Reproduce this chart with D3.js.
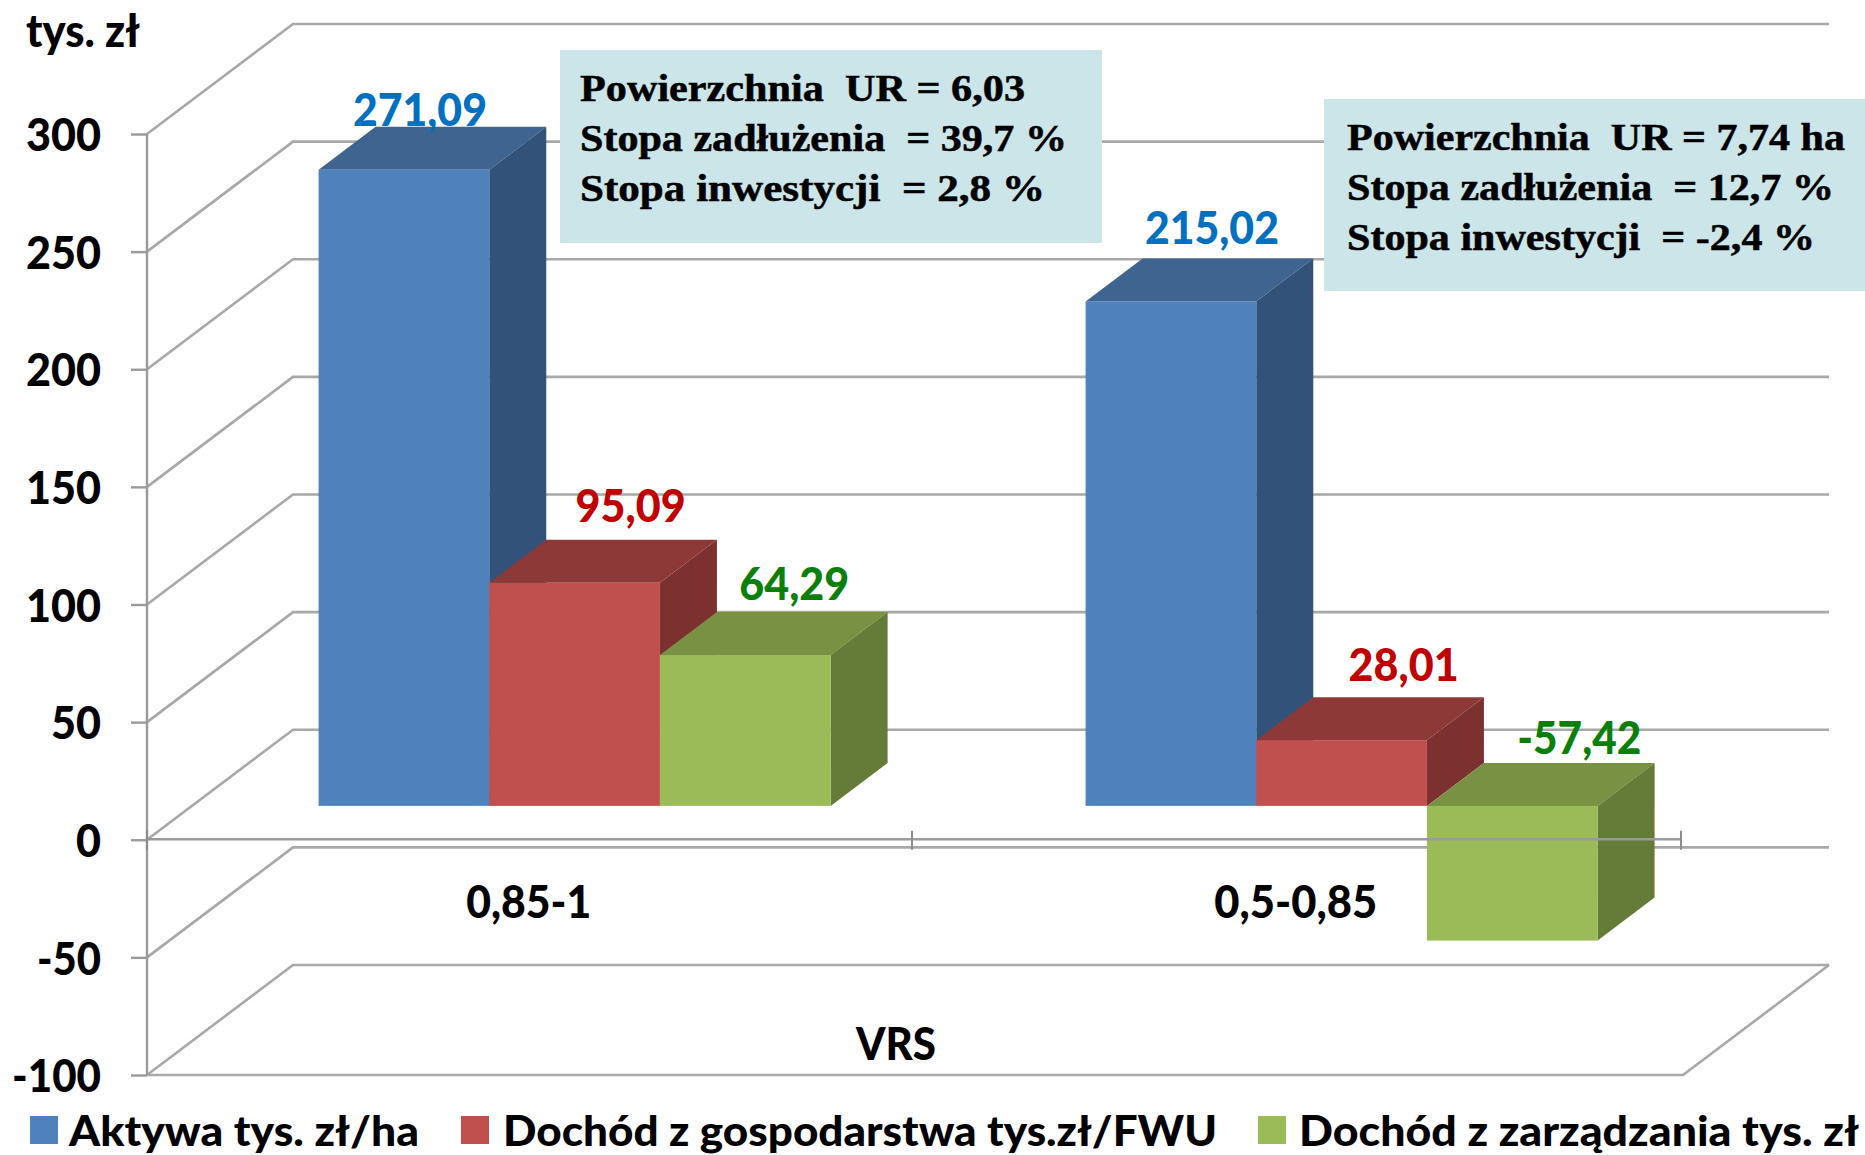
<!DOCTYPE html>
<html><head><meta charset="utf-8">
<script src="https://cdnjs.cloudflare.com/ajax/libs/d3/7.8.5/d3.min.js"></script>
<style>html,body{margin:0;background:#fff;overflow:hidden}svg{display:block}text{white-space:pre}</style>
</head><body><svg id="c" width="1865" height="1155"></svg>
<script>
const categories = ["0,85-1", "0,5-0,85"];
const seriesNames = ["Aktywa tys. zł/ha", "Dochód z gospodarstwa tys.zł/FWU", "Dochód z zarządzania tys. zł"];
const aktywa = [271.09, 215.02];
const dochodGosp = [95.09, 28.01];
const dochodZarz = [64.29, -57.42];
const yTicks = [300, 250, 200, 150, 100, 50, 0, -50, -100];
const noteLeft = ["Powierzchnia  UR = 6,03", "Stopa zadłużenia  = 39,7 %", "Stopa inwestycji  = 2,8 %"];
const noteRight = ["Powierzchnia  UR = 7,74 ha", "Stopa zadłużenia  = 12,7 %", "Stopa inwestycji  = -2,4 %"];
const xTitle = "VRS", yTitle = "tys. zł";

const seriesValues = [aktywa, dochodGosp, dochodZarz];
const front = ["#4F81BD", "#C0504D", "#9BBB59"];
const topFace = ["#3F648F", "#8D3938", "#799142"];
const sideFace = ["#335279", "#7C3130", "#657B38"];
const labelColor = ["#0070C0", "#C00000", "#0A7F0A"];
const GRID = "#A8A8A8", SANS = "Lato, 'Liberation Sans', sans-serif", SERIF = "'Liberation Serif', serif";

const svg = d3.select("#c");
const wallDx = 146, wallDy = -110, barDx = 57, barDy = -43;
const y = d3.scaleLinear().domain([-100, 300]).range([1075, 134]);
const barY = d3.scaleLinear().domain([-100, 300]).range([1040.5, 102]);
const x = d3.scaleBand().domain(categories).range([147, 1681]);
const inner = d3.scaleBand().domain(d3.range(3)).range([171.6, 683.6]);
const line = d3.line();
const pl = (pts, stroke, w) => svg.append("path").attr("d", line(pts)).attr("fill", "none").attr("stroke", stroke).attr("stroke-width", w);

// walls
yTicks.forEach(t => {
  const yy = y(t);
  pl([[147, yy], [147 + wallDx, yy + wallDy], [1683 + wallDx, yy + wallDy]], GRID, 2.6);
});
pl([[147, y(-100)], [1683, y(-100)], [1683 + wallDx, y(-100) + wallDy]], GRID, 2.6);

// 3D bars
const flat = [];
categories.forEach((c, ci) => seriesValues.forEach((s, si) => flat.push({ ci, si, c, v: s[ci] })));
const bars = svg.append("g").selectAll("g").data(flat).join("g");
const X0 = d => x(d.c) + inner(d.si), X1 = d => X0(d) + inner.bandwidth();
const Ytop = d => barY(Math.max(0, d.v)), Ybot = d => barY(Math.min(0, d.v));
bars.append("path").attr("fill", d => topFace[d.si]).attr("d", d => line([[X0(d), Ytop(d)], [X1(d), Ytop(d)], [X1(d) + barDx, Ytop(d) + barDy], [X0(d) + barDx, Ytop(d) + barDy]]) + "Z");
bars.append("path").attr("fill", d => sideFace[d.si]).attr("d", d => line([[X1(d), Ytop(d)], [X1(d) + barDx, Ytop(d) + barDy], [X1(d) + barDx, Ybot(d) + barDy], [X1(d), Ybot(d)]]) + "Z");
bars.append("rect").attr("fill", d => front[d.si]).attr("x", X0).attr("y", Ytop).attr("width", inner.bandwidth()).attr("height", d => Ybot(d) - Ytop(d));

// axes
const axY = svg.append("g").attr("transform", "translate(147,0)").call(d3.axisLeft(y).tickValues(yTicks).tickSize(16).tickPadding(30).tickFormat(d => d));
const axX = svg.append("g").attr("transform", `translate(0,${y(0) - 1})`).call(d3.axisBottom(x).tickValues([]).tickSizeOuter(0));
[axY, axX].forEach(a => { a.selectAll("path,line").attr("stroke", "#9A9A9A").attr("stroke-width", 2.4); });
const tickWidth = s => String(s).split("").reduce((w, ch) => w + (ch === "-" ? 14 : 25), 0);
axY.selectAll("text").attr("font-family", SANS).attr("font-weight", 900).attr("font-size", 45).attr("fill", "#000").attr("dy", "0.37em")
  .attr("x", -46).attr("textLength", d => tickWidth(d)).attr("lengthAdjust", "spacingAndGlyphs");
axY.select(".domain").attr("d", `M0,${y(300)}V${y(-100)}`);
const edges = [147, x(categories[1]) - 2, 1681];
edges.forEach(e => pl([[e, y(0) - 9], [e, y(0) + 10]], "#8C8C8C", 2));

const txt = (s, xx, yy, o = {}) => {
  const t = svg.append("text").text(s).attr("x", xx).attr("y", yy)
    .attr("font-family", o.f || SANS).attr("font-weight", o.w || 900).attr("font-size", o.size || 45)
    .attr("fill", o.color || "#000").attr("text-anchor", o.anchor || "middle");
  if (o.sw) t.attr("stroke", o.color || "#000").attr("stroke-width", o.sw);
  if (o.len) t.attr("textLength", o.len).attr("lengthAdjust", "spacingAndGlyphs");
  return t;
};

// value labels (nudges per label, relative to the bar's top)
const nudges = [[16, -44], [56, -61], [49, -55], [41, -57], [62, -59], [67, -52]];
flat.forEach((d, i) => txt(d3.format(".2f")(d.v).replace(".", ",").replace("\u2212", "-"), (X0(d) + X1(d)) / 2 + nudges[i][0], Ytop(d) + nudges[i][1], { color: labelColor[d.si], len: d.ci === 1 && d.si === 2 ? 124 : d.si === 0 ? 134 : 110 }));

// category labels, titles
categories.forEach((c, i) => txt(c, x(c) + inner.bandwidth() + 211, 918, { len: i ? 163 : 125 }));
txt(xTitle, 896, 1060, { len: 80 });
txt(yTitle, 83, 47, { len: 114 });

// notes
const note = (lines, rx, ry, rw, rh, tx, base) => {
  svg.append("rect").attr("x", rx).attr("y", ry).attr("width", rw).attr("height", rh).attr("fill", "#CCE5E8");
  const lens = [[445, 487, 465], [498, 487, 468]][lines === noteLeft ? 0 : 1];
  lines.forEach((l, i) => txt(l, tx, base + i * 50, { f: SERIF, w: 700, size: 37, anchor: "start", len: lens[i], sw: 0.5 }));
};
note(noteLeft, 560, 50, 542, 193, 580, 101);
note(noteRight, 1324, 99, 541, 192, 1347, 150);

// legend
const legX = [30, 461, 1258], legTx = [69, 503, 1299], legLen = [350, 714, 560];
seriesNames.forEach((n, i) => {
  svg.append("rect").attr("x", legX[i]).attr("y", 1116).attr("width", 28).attr("height", 28).attr("fill", front[i]);
  txt(n, legTx[i], 1146, { anchor: "start", len: legLen[i], size: 42 });
});
</script></body></html>
